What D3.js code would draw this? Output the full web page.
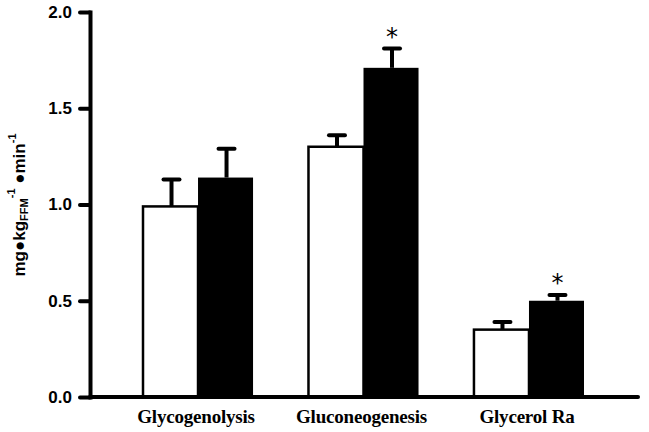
<!DOCTYPE html>
<html>
<head>
<meta charset="utf-8">
<script src="https://cdn.jsdelivr.net/npm/d3@7"></script>
<style>
  body { margin: 0; background: #fff; }
</style>
</head>
<body>
<script>
// chart values
var categories = ["Glycogenolysis", "Gluconeogenesis", "Glycerol Ra"];
var groups = ["open", "filled"];
var openMeans = [0.99, 1.30, 0.35];
var openErrs = [0.14, 0.06, 0.04];
var filledMeans = [1.14, 1.71, 0.50];
var filledErrs = [0.15, 0.10, 0.03];
var starred = [false, true, true];
var yTicks = [0, 0.5, 1.0, 1.5, 2.0];

// defines the size of the SVG
var width = 649;
var height = 432;

var pad = { top: 12, bottom: 35, left: 90, right: 11 };

var svg = d3.select("body")
            .append("svg")
            .attr("width", width)
            .attr("height", height);

// y scale
var yScale = d3.scaleLinear()
               .domain([0, 2])
               .range([height - pad.bottom, pad.top]);

// category scale
var xScale = d3.scaleBand()
               .domain(categories)
               .range([143, 584])
               .paddingInner(0.335)
               .paddingOuter(0);

// sub-scale for the two bars in each category
var subScale = d3.scaleBand()
                 .domain(groups)
                 .range([0, xScale.bandwidth()]);

// flatten the data into one record per bar
var bars = [];
categories.forEach(function(c, i){
    bars.push({cat: c, grp: "open", mean: openMeans[i], err: openErrs[i], star: false});
    bars.push({cat: c, grp: "filled", mean: filledMeans[i], err: filledErrs[i], star: starred[i]});
});

var barMid = function(d){
    return xScale(d.cat) + subScale(d.grp) + subScale.bandwidth() / 2 + 1;
};

// error bars (drawn first so the bar covers the lower part)
var errG = svg.append("g");
errG.selectAll("line.stem")
    .data(bars)
    .enter()
    .append("line")
    .attr("x1", barMid)
    .attr("x2", barMid)
    .attr("y1", function(d){ return yScale(d.mean); })
    .attr("y2", function(d){ return yScale(d.mean + d.err); })
    .attr("stroke", "#000")
    .attr("stroke-width", 4);
errG.selectAll("line.cap")
    .data(bars)
    .enter()
    .append("line")
    .attr("x1", function(d){ return barMid(d) - 8; })
    .attr("x2", function(d){ return barMid(d) + 8; })
    .attr("y1", function(d){ return yScale(d.mean + d.err); })
    .attr("y2", function(d){ return yScale(d.mean + d.err); })
    .attr("stroke", "#000")
    .attr("stroke-width", 4)
    .attr("stroke-linecap", "round");

// bars
svg.selectAll("rect.bar")
   .data(bars)
   .enter()
   .append("rect")
   .attr("class", "bar")
   .attr("x", function(d){ return xScale(d.cat) + subScale(d.grp); })
   .attr("y", function(d){ return yScale(d.mean); })
   .attr("width", subScale.bandwidth())
   .attr("height", function(d){ return yScale(0) - yScale(d.mean); })
   .attr("fill", function(d){ return d.grp == "open" ? "#fff" : "#000"; })
   .attr("stroke", "#000")
   .attr("stroke-width", function(d){ return d.grp == "open" ? 2.5 : 0; });

// significance stars
svg.selectAll("text.star")
   .data(bars.filter(function(d){ return d.star; }))
   .enter()
   .append("text")
   .attr("x", barMid)
   .attr("y", function(d){ return yScale(d.mean + d.err) - 4; })
   .attr("text-anchor", "middle")
   .attr("font-family", "DejaVu Sans, sans-serif")
   .attr("font-size", 24)
   .text("*");

// y axis
var yAxis = d3.axisLeft()
              .scale(yScale)
              .tickValues(yTicks)
              .tickFormat(d3.format(".1f"))
              .tickSize(10)
              .tickSizeOuter(0)
              .tickPadding(8);
var yG = svg.append("g")
            .attr("transform", "translate(" + pad.left + ",0)")
            .call(yAxis);
yG.select(".domain").attr("stroke-width", 4).attr("stroke-linecap", "square");
yG.selectAll(".tick line").attr("stroke-width", 4).attr("stroke-linecap", "round");
yG.selectAll(".tick text")
  .attr("font-family", "Liberation Sans, Arial, sans-serif")
  .attr("font-weight", "bold")
  .attr("font-size", 17)
  .attr("fill", "#000");

// x axis baseline
svg.append("line")
   .attr("x1", pad.left)
   .attr("x2", width - pad.right)
   .attr("y1", yScale(0))
   .attr("y2", yScale(0))
   .attr("stroke", "#000")
   .attr("stroke-width", 4)
   .attr("stroke-linecap", "round");

// category labels
svg.selectAll("text.cat")
   .data(categories)
   .enter()
   .append("text")
   .attr("x", function(d){ return xScale(d) + xScale.bandwidth() / 2 - 2; })
   .attr("y", 423)
   .attr("text-anchor", "middle")
   .attr("font-family", "Liberation Serif, Times New Roman, serif")
   .attr("font-weight", "bold")
   .attr("font-size", 19)
   .attr("letter-spacing", -0.2)
   .text(function(d){ return d; });

// y axis title
var yTitle = svg.append("text")
                .attr("transform", "translate(25,205) rotate(-90)")
                .attr("text-anchor", "middle")
                .attr("font-family", "Liberation Sans, Arial, sans-serif")
                .attr("font-weight", "bold")
                .attr("font-size", 17);
yTitle.append("tspan").text("mg\u25CFkg");
yTitle.append("tspan").attr("font-size", 11).attr("dy", 3).text("FFM");
yTitle.append("tspan").attr("font-size", 11).attr("dy", -13).text("-1");
yTitle.append("tspan").attr("dy", 10).text(" \u25CFmin");
yTitle.append("tspan").attr("font-size", 11).attr("dy", -9).text("-1");
</script>
</body>
</html>
